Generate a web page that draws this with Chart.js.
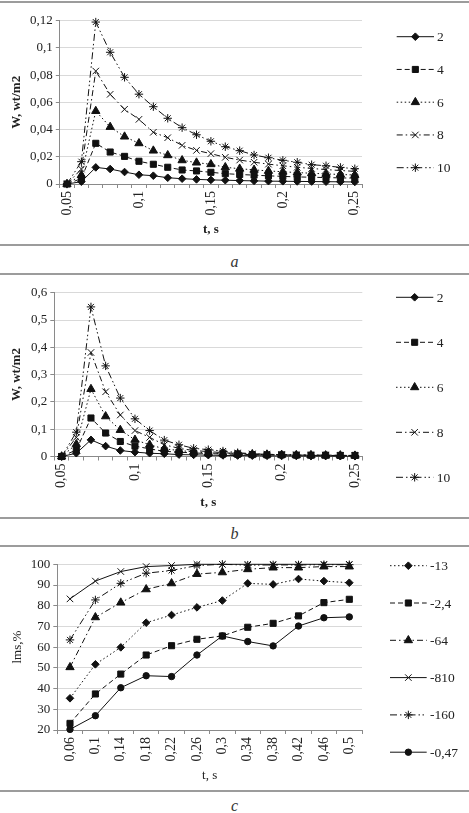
<!DOCTYPE html>
<html>
<head>
<meta charset="utf-8">
<script src="https://cdn.jsdelivr.net/npm/chart.js@4.4.1/dist/chart.umd.min.js"></script>
<style>
    body { margin: 0; width: 469px; height: 813px; background: #fff; position: relative; overflow: hidden; font-family: "Liberation Serif", "Times New Roman", serif; }
    .rule { position: absolute; left: 0; width: 469px; height: 2px; background: #9c9c9c; }
    .box { position: absolute; left: 0; }
    .cap { position: absolute; left: 0; width: 469px; text-align: center; font-style: italic; font-size: 16px; line-height: 17px; color: #333; }
</style>
</head>
<body>
<div class="rule" style="top:1px"></div>
<canvas class="box" id="chart_a" width="469" height="238" style="top:4px"></canvas>
<div class="rule" style="top:244px"></div>
<div class="cap" style="top:253px">a</div>
<div class="rule" style="top:273px"></div>
<canvas class="box" id="chart_b" width="469" height="238" style="top:277px"></canvas>
<div class="rule" style="top:517px"></div>
<div class="cap" style="top:525px">b</div>
<div class="rule" style="top:545px"></div>
<canvas class="box" id="chart_c" width="469" height="240" style="top:549px"></canvas>
<div class="rule" style="top:790px"></div>
<div class="cap" style="top:797px">c</div>

<script>
// panel a / b: time categories 0,05 .. 0,25
const t_labels_ab = ["0,05", "0,06", "0,07", "0,08", "0,09", "0,1", "0,11", "0,12", "0,13", "0,14", "0,15",
    "0,16", "0,17", "0,18", "0,19", "0,2", "0,21", "0,22", "0,23", "0,24", "0,25"]

const a_2 = [0, 0.0017, 0.0122, 0.011, 0.0088, 0.0068, 0.0061, 0.0046, 0.0039, 0.0034, 0.003, 0.0028, 0.0025, 0.0023, 0.0021, 0.002, 0.0019, 0.0018, 0.0017, 0.0016, 0.0015]
const a_4 = [0, 0.004, 0.0299, 0.0235, 0.0203, 0.0167, 0.0145, 0.0123, 0.0103, 0.0096, 0.0086, 0.0076, 0.007, 0.0065, 0.006, 0.0056, 0.0052, 0.005, 0.0047, 0.0045, 0.0043]
const a_6 = [0, 0.0065, 0.0536, 0.0419, 0.0348, 0.0299, 0.0245, 0.0211, 0.0174, 0.0157, 0.0145, 0.0123, 0.0112, 0.0104, 0.0096, 0.009, 0.0084, 0.0079, 0.0074, 0.007, 0.0066]
const a_8 = [0, 0.011, 0.083, 0.0659, 0.0549, 0.0475, 0.038, 0.034, 0.0284, 0.0247, 0.0223, 0.0196, 0.0176, 0.016, 0.0146, 0.0134, 0.0123, 0.0114, 0.0106, 0.0099, 0.0093]
const a_10 = [0, 0.0164, 0.119, 0.0968, 0.0784, 0.066, 0.0568, 0.0483, 0.0414, 0.0362, 0.0314, 0.0274, 0.0245, 0.0213, 0.0193, 0.0174, 0.016, 0.0142, 0.0134, 0.0122, 0.0112]

const b_2 = [0, 0.012, 0.061, 0.038, 0.022, 0.016, 0.012, 0.01, 0.007, 0.006, 0.005, 0.004, 0.0035, 0.003, 0.0025, 0.002, 0.002, 0.0015, 0.0015, 0.001, 0.001]
const b_4 = [0, 0.024, 0.141, 0.086, 0.055, 0.038, 0.028, 0.019, 0.016, 0.013, 0.011, 0.009, 0.008, 0.007, 0.006, 0.006, 0.005, 0.005, 0.005, 0.004, 0.004]
const b_6 = [0, 0.045, 0.247, 0.147, 0.097, 0.061, 0.043, 0.028, 0.022, 0.017, 0.013, 0.011, 0.009, 0.008, 0.007, 0.006, 0.005, 0.005, 0.004, 0.004, 0.003]
const b_8 = [0, 0.07, 0.381, 0.237, 0.152, 0.095, 0.07, 0.043, 0.03, 0.022, 0.018, 0.014, 0.011, 0.009, 0.008, 0.007, 0.006, 0.005, 0.005, 0.004, 0.004]
const b_10 = [0, 0.089, 0.548, 0.332, 0.214, 0.138, 0.095, 0.06, 0.043, 0.03, 0.025, 0.02, 0.014, 0.01, 0.008, 0.006, 0.005, 0.004, 0.004, 0.003, 0.003]

// panel c
const t_labels_c = ["0,06", "0,1", "0,14", "0,18", "0,22", "0,26", "0,3", "0,34", "0,38", "0,42", "0,46", "0,5"]
const c_13 = [35.3, 51.7, 59.9, 71.8, 75.5, 79.2, 82.5, 90.8, 90.3, 92.9, 91.9, 91.1]
const c_2_4 = [23.2, 37.4, 47.0, 56.2, 60.7, 63.8, 65.4, 69.6, 71.5, 75.1, 81.5, 83.1]
const c_64 = [50.3, 74.4, 81.5, 87.9, 90.8, 95.3, 96.1, 97.6, 98.4, 98.4, 98.9, 98.9]
const c_810 = [83.3, 91.9, 96.5, 98.9, 99.4, 100, 100, 100, 100, 100, 100, 100]
const c_160 = [63.5, 82.8, 90.8, 95.7, 97, 99.4, 100, 99.6, 99.7, 99.7, 99.8, 99.8]
const c_0_47 = [20.3, 26.9, 40.4, 46.2, 45.8, 56.2, 65.4, 62.7, 60.6, 70.2, 74.2, 74.6]

const serif = '"Liberation Serif", "Times New Roman", serif'
const dashes = { solid: [], dash: [5, 3], dot: [1.5, 2.5], dashDot: [6, 3, 1.5, 3], dashDotDot: [7, 3, 1.5, 2.5, 1.5, 3] }
const marker_size = { rectRot: 3.8, rect: 4.3, triangle: 4.8, crossRot: 4.6, star: 4.2, circle: 3.2 }

function makeSeries(label, data, marker, dash) {
    return {
        label: label,
        data: data,
        borderColor: '#111',
        borderWidth: 1,
        borderDash: dashes[dash],
        pointStyle: marker,
        pointRadius: marker_size[marker],
        pointBackgroundColor: '#111',
        pointBorderColor: '#111',
        pointBorderWidth: 1,
        tension: 0,
        clip: false
    }
}

// legend on the right: line + marker + text, like excel draws it
const sideLegend = {
    id: 'sideLegend',
    afterDraw(chart, args, opts) {
        const ctx = chart.ctx
        chart.data.datasets.forEach(function (ds, i) {
            let y = opts.top + i * opts.step
            ctx.save()
            ctx.strokeStyle = ds.borderColor
            ctx.lineWidth = ds.borderWidth
            ctx.setLineDash(ds.borderDash)
            ctx.beginPath()
            ctx.moveTo(opts.x1, y)
            ctx.lineTo(opts.x2, y)
            ctx.stroke()
            ctx.setLineDash([])
            ctx.fillStyle = ds.pointBackgroundColor
            ctx.strokeStyle = ds.pointBorderColor
            ctx.lineWidth = 1
            Chart.helpers.drawPoint(ctx, { pointStyle: ds.pointStyle, radius: ds.pointRadius, rotation: 0, borderWidth: 1 }, (opts.x1 + opts.x2) / 2, y)
            ctx.fillStyle = '#222'
            ctx.font = opts.fontSize + 'px ' + serif
            ctx.textAlign = 'left'
            ctx.textBaseline = 'middle'
            ctx.fillText(ds.label, opts.textX, y + 1)
            ctx.restore()
        })
    }
}

function commaNumber(v) {
    return String(parseFloat(v.toFixed(4))).replace('.', ',')
}

function makeChart(canvas_id, labels, datasets, cfg) {
    return new Chart(document.getElementById(canvas_id), {
        type: 'line',
        data: { labels: labels, datasets: datasets },
        plugins: [sideLegend],
        options: {
            responsive: false,
            animation: false,
            layout: { padding: { left: 0, right: 469 - cfg.right, top: cfg.top, bottom: 0 } },
            plugins: {
                legend: { display: false },
                tooltip: { enabled: false },
                sideLegend: cfg.legend
            },
            scales: {
                x: {
                    type: 'category',
                    offset: true,
                    afterFit: function (scale) { scale.height = cfg.xHeight },
                    grid: { display: true, offset: true, drawOnChartArea: false, drawTicks: true, tickLength: 4, tickColor: '#8a8a8a' },
                    border: { display: true, color: '#8a8a8a', width: 1 },
                    ticks: {
                        autoSkip: false, maxRotation: 90, minRotation: 90, padding: 3, color: '#222',
                        font: { family: serif, size: 14 },
                        callback: function (v, i) { return i % cfg.every === 0 ? this.getLabelForValue(v) : '' }
                    },
                    title: {
                        display: true, text: 't, s', color: '#222',
                        font: { family: serif, size: 13, weight: cfg.bold ? 'bold' : 'normal' },
                        padding: { top: 0, bottom: cfg.xTitlePad }
                    }
                },
                y: {
                    min: cfg.yMin,
                    max: cfg.yMax,
                    afterFit: function (scale) { scale.width = cfg.left },
                    grid: { color: '#d9d9d9', drawTicks: true, tickLength: 4, tickColor: '#8a8a8a' },
                    border: { display: true, color: '#8a8a8a', width: 1 },
                    ticks: {
                        stepSize: cfg.yStep, padding: 3, color: '#222',
                        font: { family: serif, size: 13 },
                        callback: commaNumber
                    },
                    title: {
                        display: true, text: cfg.yTitle, color: '#222',
                        font: { family: serif, size: 13, weight: cfg.bold ? 'bold' : 'normal' },
                        padding: { top: cfg.yTitlePad, bottom: 0 }
                    }
                }
            }
        }
    })
}

makeChart('chart_a', t_labels_ab, [
    makeSeries('2', a_2, 'rectRot', 'solid'),
    makeSeries('4', a_4, 'rect', 'dash'),
    makeSeries('6', a_6, 'triangle', 'dot'),
    makeSeries('8', a_8, 'crossRot', 'dashDot'),
    makeSeries('10', a_10, 'star', 'dashDotDot')
], {
    yMin: 0, yMax: 0.12, yStep: 0.02, yTitle: 'W, wt/m2', bold: true, every: 5,
    left: 59.8, right: 362, top: 16.7, xHeight: 58, xTitlePad: 4.5, yTitlePad: 8.5,
    legend: { top: 32.7, step: 32.75, x1: 396.7, x2: 434, textX: 437, fontSize: 13.5 }
})

makeChart('chart_b', t_labels_ab, [
    makeSeries('2', b_2, 'rectRot', 'solid'),
    makeSeries('4', b_4, 'rect', 'dash'),
    makeSeries('6', b_6, 'triangle', 'dot'),
    makeSeries('8', b_8, 'crossRot', 'dashDot'),
    makeSeries('10', b_10, 'star', 'dashDotDot')
], {
    yMin: 0, yMax: 0.6, yStep: 0.1, yTitle: 'W, wt/m2', bold: true, every: 5,
    left: 54.3, right: 362.3, top: 15.7, xHeight: 58.5, xTitlePad: 4.5, yTitlePad: 8.5,
    legend: { top: 20.3, step: 45, x1: 396, x2: 433.3, textX: 436.7, fontSize: 13.5 }
})

makeChart('chart_c', t_labels_c, [
    makeSeries('-13', c_13, 'rectRot', 'dot'),
    makeSeries('-2,4', c_2_4, 'rect', 'dash'),
    makeSeries('-64', c_64, 'triangle', 'dashDot'),
    makeSeries('-810', c_810, 'crossRot', 'solid'),
    makeSeries('-160', c_160, 'star', 'dashDotDot'),
    makeSeries('-0,47', c_0_47, 'circle', 'solid')
], {
    yMin: 20, yMax: 100, yStep: 10, yTitle: 'lms,%', bold: false, every: 1,
    left: 57.3, right: 362, top: 15.3, xHeight: 59, xTitlePad: 5.5, yTitlePad: 10,
    legend: { top: 16.7, step: 37.3, x1: 390, x2: 426.7, textX: 430, fontSize: 13.5 }
})
</script>
</body>
</html>
